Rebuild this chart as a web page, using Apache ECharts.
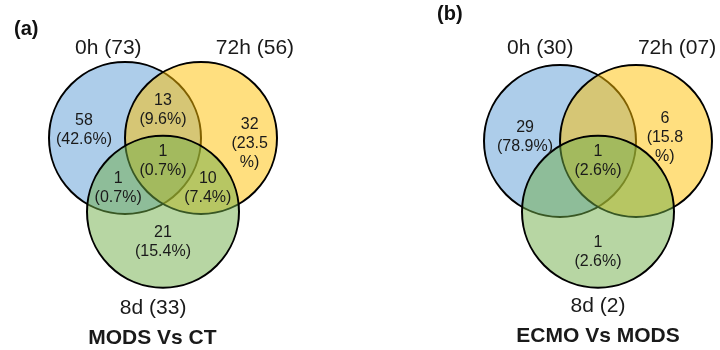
<!DOCTYPE html>
<html>
<head>
<meta charset="utf-8">
<script src="https://cdn.jsdelivr.net/npm/echarts@6/dist/echarts.min.js"></script>
<style>
  html, body { margin: 0; padding: 0; background: #fff; }
  #chart { width: 720px; height: 350px; }
</style>
</head>
<body>
<div id="chart"></div>
<script>
// ---- Data ----------------------------------------------------------------
// (a) MODS Vs CT
const setNamesA = ['0h', '72h', '8d'];
const setTotalsA = ['73', '56', '33'];
// regions: 0h only, 0h∩72h, 72h only, all three, 0h∩8d, 72h∩8d, 8d only
const regionCountsA = [58, 13, 32, 1, 1, 10, 21];
const regionPctA = ['42.6', '9.6', '23.5', '0.7', '0.7', '7.4', '15.4'];

// (b) ECMO Vs MODS
const setNamesB = ['0h', '72h', '8d'];
const setTotalsB = ['30', '07', '2'];
// regions: 0h only, 72h only, all three, 8d only
const regionCountsB = [29, 6, 1, 1];
const regionPctB = ['78.9', '15.8', '2.6', '2.6'];

const panelTags = ['(a)', '(b)'];
const panelTitles = ['MODS Vs CT', 'ECMO Vs MODS'];

// ---- Layout (circle radius = 1 unit) -------------------------------------
const circleColors = ['#5b9bd5', '#ffc000', '#70ad47'];
const circlesA = [[-0.5, 0.5], [0.5, 0.5], [0.0, -0.47]];
const circlesB = [[-0.5, 0.5], [0.5, 0.5], [0.0, -0.43]];
const nameAnchorsA = [[-0.72, 1.68], [1.21, 1.68], [-0.13, -1.74]];
const nameAnchorsB = [[-0.76, 1.72], [1.04, 1.72], [0.0, -1.68]];
const regionAnchorsA = [[-1.04, 0.61], [0, 0.87], [1.14, 0.42], [0, 0.19], [-0.59, -0.16], [0.59, -0.16], [0, -0.87]];
const regionWrapA = [false, false, true, false, false, false, false];
const regionAnchorsB = [[-0.96, 0.55], [0.88, 0.54], [0, 0.24], [0, -0.96]];
const regionWrapB = [false, true, false, false];
const titleAnchors = [[-0.14, -2.13], [0.0, -2.07]];

function rgba(hex, a) {
  const n = parseInt(hex.slice(1), 16);
  return 'rgba(' + ((n >> 16) & 255) + ',' + ((n >> 8) & 255) + ',' + (n & 255) + ',' + a + ')';
}

const FONT = 'Liberation Sans, Arial, sans-serif';

function circleSeries(gi, centers) {
  return {
    type: 'custom',
    xAxisIndex: gi, yAxisIndex: gi,
    coordinateSystem: 'cartesian2d',
    silent: true,
    data: centers.map((c, i) => [c[0], c[1], 1, i]),
    renderItem: function (params, api) {
      const p = api.coord([api.value(0), api.value(1)]);
      const s = api.size([api.value(2), api.value(2)]);
      const idx = api.value(3);
      return {
        type: 'circle',
        shape: { cx: p[0], cy: p[1], r: s[0] },
        style: { fill: rgba(circleColors[idx], 0.5), stroke: '#000', lineWidth: 2 }
      };
    }
  };
}

function textSeries(gi, items) {
  return {
    type: 'custom',
    xAxisIndex: gi, yAxisIndex: gi,
    coordinateSystem: 'cartesian2d',
    silent: true,
    z: 5,
    data: items.map((t, i) => [t.pos[0], t.pos[1], i]),
    renderItem: function (params, api) {
      const t = items[api.value(2)];
      const p = api.coord([api.value(0), api.value(1)]);
      return {
        type: 'text',
        x: p[0], y: p[1],
        style: {
          text: t.text,
          fill: '#1a1a1a',
          fontFamily: FONT,
          fontSize: t.size,
          fontWeight: t.bold ? 'bold' : 'normal',
          lineHeight: t.lh || t.size + 4,
          align: 'center',
          verticalAlign: 'middle'
        }
      };
    }
  };
}

function regionText(count, pct, wrap) {
  return count + '\n(' + pct + (wrap ? '\n%)' : '%)');
}

function buildItems(names, totals, nameAnchors, counts, pcts, anchors, wraps, title, titlePos) {
  const items = [];
  names.forEach((n, i) => items.push({ pos: nameAnchors[i], text: n + ' (' + totals[i] + ')', size: 21 }));
  counts.forEach((c, i) => items.push({ pos: anchors[i], text: regionText(c, pcts[i], wraps[i]), size: 16, lh: 19 }));
  items.push({ pos: titlePos, text: title, size: 21, bold: true });
  return items;
}

const itemsA = buildItems(setNamesA, setTotalsA, nameAnchorsA, regionCountsA, regionPctA, regionAnchorsA, regionWrapA, panelTitles[0], titleAnchors[0]);
const itemsB = buildItems(setNamesB, setTotalsB, nameAnchorsB, regionCountsB, regionPctB, regionAnchorsB, regionWrapB, panelTitles[1], titleAnchors[1]);

// 1 unit = 76 px on both axes: x spans 3 units (228 px), y spans 4 units (304 px)
const hiddenX = (gi) => ({ type: 'value', gridIndex: gi, min: -1.5, max: 1.5, show: false });
const hiddenY = (gi) => ({ type: 'value', gridIndex: gi, min: -2, max: 2, show: false });

const chart = echarts.init(document.getElementById('chart'), null, { renderer: 'canvas' });
chart.setOption({
  animation: false,
  backgroundColor: '#ffffff',
  title: [
    { text: panelTags[0], left: 14, top: 19, padding: 0, textStyle: { fontFamily: FONT, fontSize: 20, fontWeight: 'bold', color: '#111' } },
    { text: panelTags[1], left: 437, top: 4, padding: 0, textStyle: { fontFamily: FONT, fontSize: 20, fontWeight: 'bold', color: '#111' } }
  ],
  grid: [
    { left: 49, top: 24, width: 228, height: 304 },
    { left: 484, top: 27, width: 228, height: 304 }
  ],
  xAxis: [hiddenX(0), hiddenX(1)],
  yAxis: [hiddenY(0), hiddenY(1)],
  series: [
    circleSeries(0, circlesA),
    textSeries(0, itemsA),
    circleSeries(1, circlesB),
    textSeries(1, itemsB)
  ]
});
</script>
</body>
</html>
